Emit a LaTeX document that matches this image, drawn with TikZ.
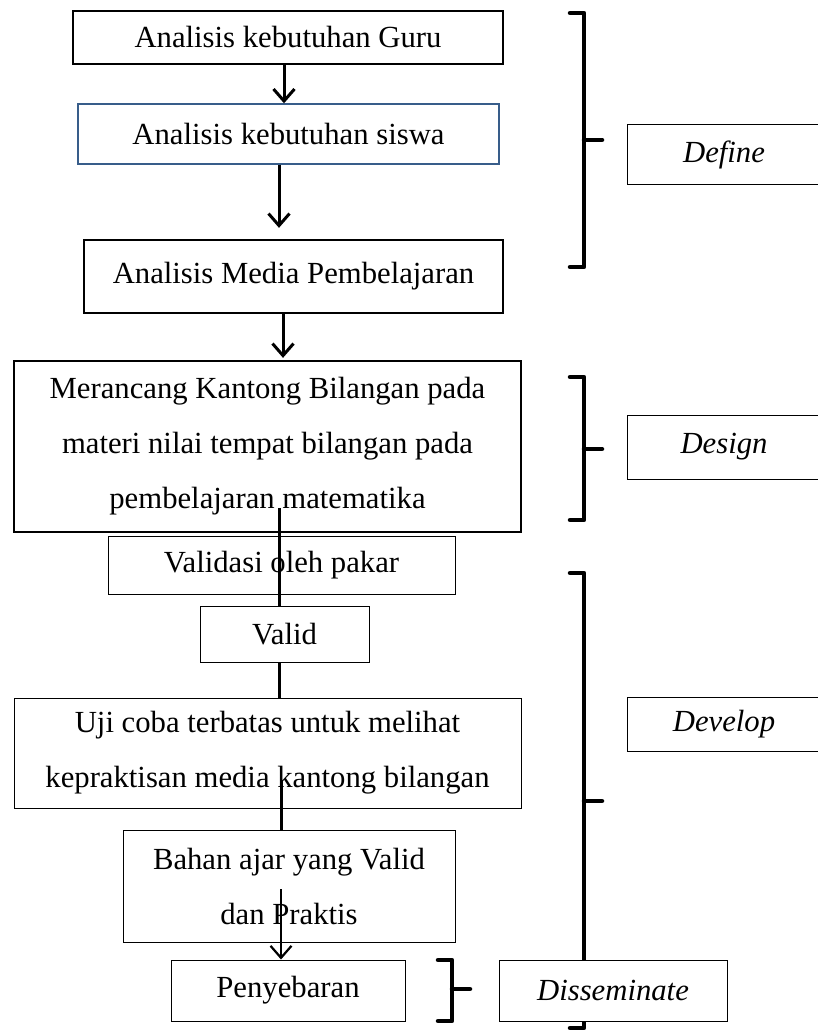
\documentclass[tikz,border=0pt]{standalone}
\usepackage{fontspec}
\setmainfont{Liberation Serif}
\usepackage{tikz}
\usetikzlibrary{arrows.meta}
\definecolor{boxblue}{RGB}{56,93,138}

\begin{document}
\begin{tikzpicture}
      [ x=1pt, y=-1pt,
        every node/.style={inner sep=0pt, align=center,
                           font=\fontsize{30.7}{55}\selectfont},
        thickbox/.style={draw, rectangle, line width=2.3pt, fill=white},
        thinbox/.style={draw, rectangle, line width=1pt, fill=white},
        phase/.style={draw, rectangle, line width=1pt, fill=white,
                      minimum width=194pt,
                      font=\fontsize{30.7}{55}\selectfont\itshape},
        flow/.style={line width=3pt,
                     -{Straight Barb[length=12pt,width=21pt]}},
        link/.style={line width=3pt},
        bracket/.style={line width=4.5pt, line cap=round, line join=round}
      ]
      \useasboundingbox (0,0) rectangle (817,1030);

      % main column
      \node[thickbox, minimum width=430pt, minimum height=53pt]  (guru)     at (288,37.5)   {Analisis kebutuhan Guru};
      \node[thinbox, draw=boxblue, line width=1.4pt,
            minimum width=421pt, minimum height=60pt]            (siswa)    at (288.5,134)  {Analisis kebutuhan siswa};
      \node[thickbox, minimum width=419pt, minimum height=73pt]  (media)    at (293.5,276.5) {Analisis Media Pembelajaran};
      \node[thickbox, minimum width=507pt, minimum height=171pt] (rancang)  at (267.5,446.5) {Merancang Kantong Bilangan pada\\ materi nilai tempat bilangan pada\\ pembelajaran matematika};
      \node[thinbox, minimum width=347pt, minimum height=58pt]   (validasi) at (281.5,565)  {Validasi oleh pakar};
      \node[thinbox, minimum width=169pt, minimum height=56pt]   (valid)    at (284.5,634)  {Valid};
      \node[thinbox, minimum width=507pt, minimum height=110pt]  (uji)      at (267.5,753)  {Uji coba terbatas untuk melihat\\ kepraktisan media kantong bilangan};
      \node[thinbox, minimum width=332pt, minimum height=112pt]  (bahan)    at (289,886)    {Bahan ajar yang Valid\\ dan Praktis};
      \node[thinbox, minimum width=234pt, minimum height=61pt]   (sebar)    at (288,990.5)  {Penyebaran};

      % brackets
      \draw[bracket] (570,13) -- (584,13) -- (584,267) -- (570,267) (584,140) -- (602,140);
      \draw[bracket] (570,377) -- (584,377) -- (584,520) -- (570,520) (584,449) -- (602,449);
      \draw[bracket] (570,573) -- (584,573) -- (584,1028) -- (570,1028) (584,801) -- (602,801);
      \draw[bracket] (438,960) -- (452,960) -- (452,1021) -- (438,1021) (452,989) -- (470,989);

      % phases
      \node[phase, minimum height=59pt] (define)  at (724,154.5) {Define};
      \node[phase, minimum height=64pt] (design)  at (724,447)   {Design};
      \node[phase, minimum height=54pt] (develop) at (724,724)   {Develop};
      \node[phase, minimum width=228pt, minimum height=61pt] (dissem) at (613,990.5) {Disseminate};

      % connectors
      \coordinate (r1) at (279,508);
      \coordinate (u1) at (281,780);
      \coordinate (b1) at (281,889);
      \draw[flow] (guru.south -| 284,0) -- (siswa.north -| 284,0);
      \draw[flow, shorten >=11pt] (siswa.south -| 279,0) -- (media.north -| 279,0);
      \draw[flow, shorten >=2pt] (media.south -| 283,0) -- (rancang.north -| 283,0);
      \draw[link] (r1) -- (valid.north -| r1);
      \draw[link] (valid.south -| 279,0) -- (uji.north -| 279,0);
      \draw[link] (u1) -- (bahan.north -| u1);
      \draw[flow, line width=2.2pt] (b1) -- (sebar.north -| b1);
\end{tikzpicture}
\end{document}
